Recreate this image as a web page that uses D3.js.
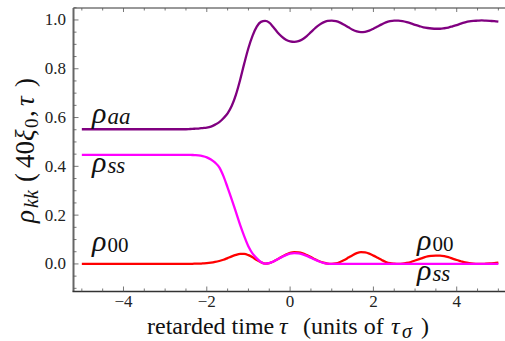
<!DOCTYPE html>
<html>
<head>
<meta charset="utf-8">
<script src="https://cdn.jsdelivr.net/npm/d3@7"></script>
</head>
<body style="margin:0">
<svg id="chart" width="505" height="341"></svg>
<script>
// retarded time samples (units of tau_sigma)
const tau = [
  -5.0, -4.5, -4.0, -3.5, -3.0, -2.5,
  -2.4, -2.3, -2.2, -2.1, -2.0, -1.9, -1.8, -1.7, -1.6, -1.5,
  -1.4, -1.3, -1.2, -1.1, -1.0, -0.9, -0.8, -0.7, -0.6, -0.5,
  -0.4, -0.3, -0.2, -0.1, 0.0, 0.1, 0.2, 0.3, 0.4, 0.5,
  0.6, 0.7, 0.8, 0.9, 1.0, 1.1, 1.2, 1.3, 1.4, 1.5,
  1.6, 1.7, 1.8, 1.9, 2.0, 2.1, 2.2, 2.3, 2.4, 2.5,
  2.6, 2.7, 2.8, 2.9, 3.0, 3.1, 3.2, 3.3, 3.4, 3.5,
  3.6, 3.7, 3.8, 3.9, 4.0, 4.1, 4.2, 4.3, 4.4, 4.5,
  4.6, 4.7, 4.8, 4.9, 5.0
];

// population of |a>
const rhoAA = [
  0.552, 0.552, 0.552, 0.552, 0.552, 0.552,
  0.553, 0.554, 0.555, 0.557, 0.559, 0.563, 0.571, 0.581, 0.597, 0.617,
  0.648, 0.694, 0.754, 0.822, 0.885, 0.936, 0.973, 0.992, 0.996, 0.989,
  0.970, 0.949, 0.932, 0.919, 0.912, 0.910, 0.913, 0.921, 0.934, 0.950,
  0.966, 0.980, 0.990, 0.996, 0.997, 0.995, 0.989, 0.980, 0.970, 0.960,
  0.953, 0.950, 0.951, 0.956, 0.964, 0.973, 0.982, 0.990, 0.995, 0.997,
  0.997, 0.995, 0.991, 0.986, 0.980, 0.975, 0.970, 0.967, 0.965, 0.964,
  0.964, 0.966, 0.969, 0.974, 0.979, 0.985, 0.990, 0.994, 0.996, 0.997,
  0.998, 0.997, 0.996, 0.995, 0.993
];

// population of |s>
const rhoSS = [
  0.447, 0.447, 0.447, 0.447, 0.447, 0.447,
  0.447, 0.446, 0.445, 0.442, 0.437, 0.428, 0.415, 0.396, 0.360, 0.313,
  0.264, 0.212, 0.160, 0.113, 0.071, 0.042, 0.023, 0.008, 0.001, 0.003,
  0.010, 0.019, 0.028, 0.036, 0.042, 0.044, 0.043, 0.039, 0.033, 0.025,
  0.017, 0.010, 0.004, 0.001, 0.000, 0.000, 0.000, 0.000, 0.000, 0.000,
  0.000, 0.000, 0.000, 0.000, 0.000, 0.000, 0.000, 0.000, 0.000, 0.000,
  0.000, 0.000, 0.000, 0.000, 0.000, 0.000, 0.000, 0.000, 0.000, 0.000,
  0.000, 0.000, 0.000, 0.000, 0.000, 0.000, 0.000, 0.000, 0.000, 0.000,
  0.000, 0.000, 0.000, 0.000, 0.000
];

// population of |0>
const rho00 = [
  0.000, 0.000, 0.000, 0.000, 0.000, 0.000,
  0.000, 0.001, 0.001, 0.002, 0.003, 0.005, 0.008, 0.012, 0.017, 0.024,
  0.031, 0.037, 0.041, 0.041, 0.036, 0.027, 0.016, 0.007, 0.001, 0.003,
  0.010, 0.019, 0.029, 0.038, 0.045, 0.048, 0.047, 0.043, 0.036, 0.028,
  0.019, 0.011, 0.005, 0.001, 0.000, 0.002, 0.008, 0.016, 0.026, 0.036,
  0.044, 0.048, 0.047, 0.042, 0.034, 0.025, 0.016, 0.008, 0.003, 0.001,
  0.000, 0.001, 0.004, 0.008, 0.014, 0.020, 0.026, 0.031, 0.033, 0.034,
  0.034, 0.032, 0.028, 0.022, 0.016, 0.011, 0.006, 0.003, 0.001, 0.000,
  0.000, 0.001, 0.002, 0.003, 0.005
];

const xTicks = [-4, -2, 0, 2, 4];
const yTicks = [0.0, 0.2, 0.4, 0.6, 0.8, 1.0];

const SERIF = "Liberation Serif";
const INK = "#111";

const svg = d3.select("#chart");

const x = d3.scaleLinear().domain([-5.2, 5.2]).range([73.5, 506.7]);
const y = d3.scaleLinear().domain([-0.113, 1.049]).range([291.5, 8]);

const xMinor = d3.range(-5, 5.01, 0.5);
const yMinor = d3.range(-0.1, 1.051, 0.05).map(v => +v.toFixed(2));

const g = svg.append("g");

// frame lines
g.append("line").attr("x1", x(-5.2)).attr("x2", 505).attr("y1", y(1.049)).attr("y2", y(1.049))
  .attr("stroke", "#333").attr("stroke-width", 1);
g.append("line").attr("x1", x(-5.2)).attr("x2", x(-5.2)).attr("y1", y(1.049)).attr("y2", y(-0.113))
  .attr("stroke", "#666").attr("stroke-width", 2);
g.append("line").attr("x1", x(-5.2) - 1).attr("x2", 505).attr("y1", y(-0.113)).attr("y2", y(-0.113))
  .attr("stroke", "#333").attr("stroke-width", 1.6);

// ticks on left edge
yMinor.forEach(v => {
  const major = yTicks.some(t => Math.abs(t - v) < 1e-6);
  g.append("line").attr("x1", x(-5.2)).attr("x2", x(-5.2) + (major ? 5 : 3))
    .attr("y1", y(v)).attr("y2", y(v)).attr("stroke", "#555").attr("stroke-width", 0.8);
});
// ticks on bottom and top edges
xMinor.forEach(v => {
  const major = xTicks.some(t => Math.abs(t - v) < 1e-6);
  g.append("line").attr("x1", x(v)).attr("x2", x(v))
    .attr("y1", y(-0.113)).attr("y2", y(-0.113) - (major ? 5 : 3))
    .attr("stroke", "#555").attr("stroke-width", 0.8);
  g.append("line").attr("x1", x(v)).attr("x2", x(v))
    .attr("y1", y(1.049)).attr("y2", y(1.049) + (major ? 4 : 2.5))
    .attr("stroke", "#555").attr("stroke-width", 0.8);
});

// tick labels
yTicks.forEach(d => {
  svg.append("text").attr("x", 66).attr("y", y(d) + 5.5)
    .attr("text-anchor", "end").attr("font-family", SERIF).attr("font-size", 17).attr("fill", "#222")
    .text(d.toFixed(1));
});
xTicks.forEach(d => {
  svg.append("text").attr("x", x(d)).attr("y", 307)
    .attr("text-anchor", "middle").attr("font-family", SERIF).attr("font-size", 17).attr("fill", "#222")
    .text(d < 0 ? "\u2212" + Math.abs(d) : String(d));
});

// curves
const line = d3.line().x((d, i) => x(tau[i])).y(d => y(d)).curve(d3.curveMonotoneX);
const series = [
  { values: rho00, color: "#ff0000" },
  { values: rhoSS, color: "#ff00ff" },
  { values: rhoAA, color: "#800080" }
];
series.forEach(s => {
  g.append("path").attr("d", line(s.values)).attr("fill", "none")
    .attr("stroke", s.color).attr("stroke-width", 2.3)
    .attr("stroke-linejoin", "round").attr("stroke-linecap", "butt");
});

// curve labels: rho with subscript
function rhoLabel(px, py, sub, subItalic) {
  const t = svg.append("text").attr("x", px).attr("y", py)
    .attr("font-family", SERIF).attr("fill", INK);
  t.append("tspan").attr("font-family", SERIF).attr("font-style", "italic").attr("font-size", 30).text("\u03c1");
  t.append("tspan").attr("font-family", SERIF).attr("dx", 1).attr("dy", 1).attr("font-size", subItalic ? 23 : 21)
    .attr("font-style", subItalic ? "italic" : "normal").text(sub);
}
rhoLabel(92, 123, "aa", true);
rhoLabel(92, 172, "ss", true);
rhoLabel(92, 251, "00", false);
rhoLabel(417, 250, "00", false);
rhoLabel(417, 280, "ss", true);

// x-axis title, pieces placed along the baseline
const xt = svg.append("text").attr("y", 334).attr("font-family", SERIF).attr("font-size", 24).attr("fill", INK);
xt.append("tspan").attr("x", 147).text("retarded time");
xt.append("tspan").attr("x", 279).attr("font-style", "italic").text("\u03c4");
xt.append("tspan").attr("x", 303).text("(units of");
xt.append("tspan").attr("x", 391).attr("font-style", "italic").text("\u03c4");
xt.append("tspan").attr("x", 402).attr("dy", 4).attr("font-size", 20).attr("font-style", "italic").text("\u03c3");
xt.append("tspan").attr("x", 421).attr("dy", -4).text(")");

// y-axis title, rotated, pieces placed along the baseline
const yt = svg.append("text").attr("transform", "translate(34,223) rotate(-90)")
  .attr("font-family", SERIF).attr("font-size", 27).attr("fill", INK);
yt.append("tspan").attr("x", 0).attr("font-style", "italic").text("\u03c1");
yt.append("tspan").attr("x", 15).attr("dy", 4).attr("font-size", 20).attr("font-style", "italic").text("kk");
yt.append("tspan").attr("x", 41).attr("dy", -4).text("(");
yt.append("tspan").attr("x", 55).text("40");
yt.append("tspan").attr("x", 82).attr("font-style", "italic").text("\u03be");
yt.append("tspan").attr("x", 95).attr("dy", 4).attr("font-size", 19).text("0");
yt.append("tspan").attr("x", 106).attr("dy", -4).text(",");
yt.append("tspan").attr("x", 117).attr("font-style", "italic").text("\u03c4");
yt.append("tspan").attr("x", 136).text(")");
</script>
</body>
</html>
